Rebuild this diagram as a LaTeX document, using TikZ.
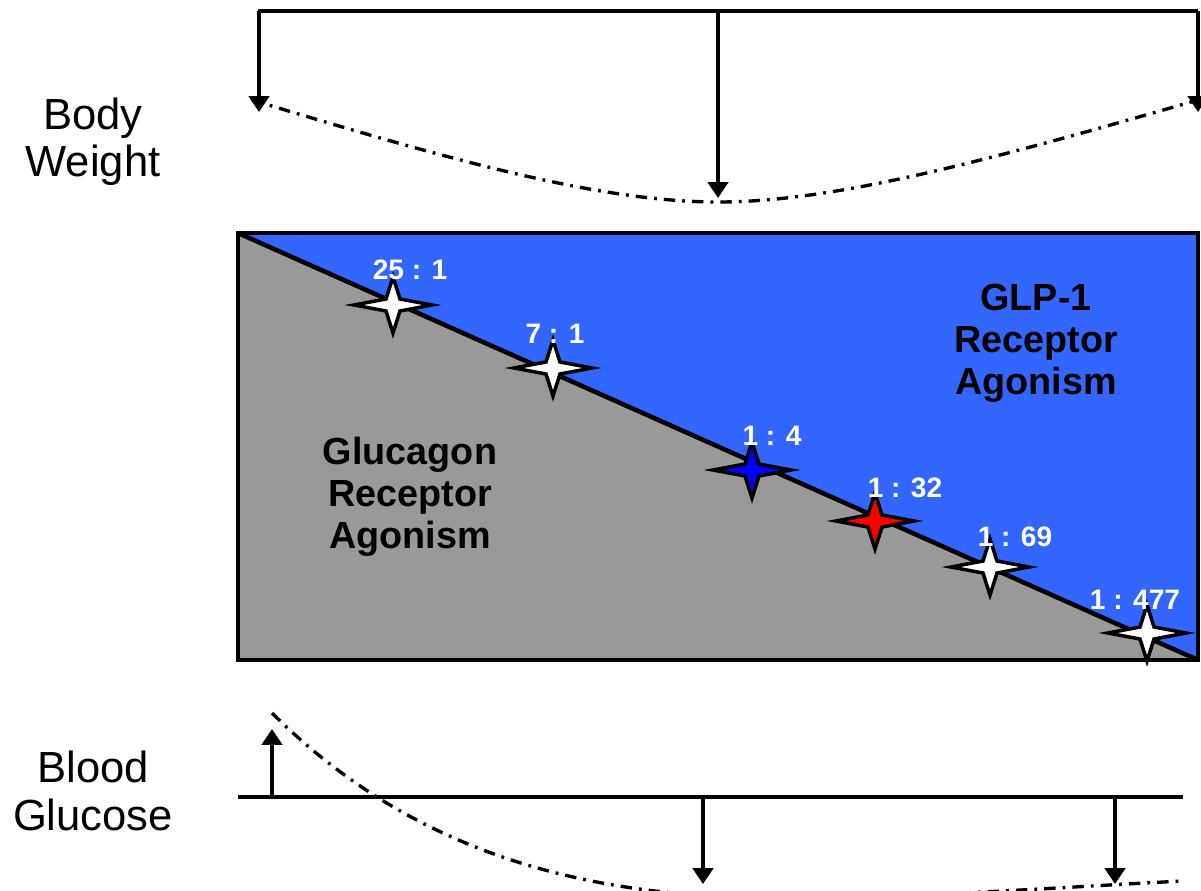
\documentclass[tikz,border=0pt]{standalone}
\usepackage{fontspec}
\setmainfont{Liberation Sans}
\usepackage{tikz}
\usetikzlibrary{arrows.meta,positioning,calc}
\definecolor{GlpBlue}{RGB}{51,102,255}
\definecolor{GcgGray}{RGB}{153,153,153}
\definecolor{StarBlue}{RGB}{0,0,255}
\definecolor{StarRed}{RGB}{255,0,0}

% four-point star round a named coordinate
\newcommand{\ratiostar}[2]{%
  \begin{scope}[shift={(#1)}]
    \draw[starline, fill=#2] (39,0) -- (7,-6) -- (0,-28) -- (-7,-6) -- (-39,0)
      -- (-7,6) -- (0,28) -- (7,6) -- cycle;
  \end{scope}}

\begin{document}
\begin{tikzpicture}[
  x=0.02cm, y=-0.02cm,
  bar/.style={line width=2.1pt, draw=black},
  arr/.style={-{Triangle[length=9pt, width=11.5pt]}, line width=2.1pt},
  trend/.style={line width=1.9pt, dash pattern=on 6.5pt off 4pt on 1.6pt off 4pt},
  side/.style={align=center, font=\fontsize{24.8}{27}\selectfont},
  region/.style={align=center, font=\fontsize{21.5}{24}\selectfont\bfseries},
  ratio/.style={text=white, inner sep=1pt, font=\fontsize{16}{18}\selectfont\bfseries},
  starline/.style={line width=2pt, line join=miter},
]
\useasboundingbox (0,0) rectangle (1201,890);

% body weight
\node[side] (bw) at (93,142) {Body\\Weight};
\coordinate (bwl) at (258,11);
\coordinate (bwm) at (718,11);
\coordinate (bwr) at (1198,11);
\coordinate (bwlt) at (259,112);
\coordinate (bwmt) at (718,198);
\coordinate (bwrt) at (1198,112);
\draw[bar] (bwl) -- (bwr);
\draw[arr] ($(bwl)+(1,0)$) -- (bwlt);
\draw[arr] (bwm) -- (bwmt);
\draw[arr] (bwr) -- (bwrt);
\coordinate (bwc1) at (252,100);
\coordinate (bwc2) at (718,202);
\coordinate (bwc3) at (1198,100);
\draw[trend] (bwc1) .. controls (450,160) and (600,202) .. (bwc2)
  .. controls (836,202) and (990,160) .. (bwc3);

% agonism box
\coordinate (tl) at (238,233);
\coordinate (br) at (1198,660);
\fill[GlpBlue] (tl) rectangle (br);
\fill[GcgGray] (tl) -- (tl |- br) -- (br) -- cycle;
\draw[line width=2.6pt] (tl) -- (br);
\draw[line width=2.6pt] (tl) rectangle (br);

\node[region] (glp) at (1036,343) {GLP-1\\Receptor\\Agonism};
\node[region] (gcg) at (410,497) {Glucagon\\Receptor\\Agonism};

\coordinate (s1) at (393,305);
\coordinate (s2) at (553,368);
\coordinate (s3) at (752,470);
\coordinate (s4) at (875,521);
\coordinate (s5) at (990,567);
\coordinate (s6) at (1147,633);
\ratiostar{s1}{white}
\ratiostar{s2}{white}
\ratiostar{s3}{StarBlue}
\ratiostar{s4}{StarRed}
\ratiostar{s5}{white}
\ratiostar{s6}{white}
\node[ratio] (r1) at (410,270) {25 : 1};
\node[ratio] (r2) at (555,334) {7 : 1};
\node[ratio] (r3) at (772,436) {1 : 4};
\node[ratio] (r4) at (905,488) {1 : 32};
\node[ratio] (r5) at (1015,537) {1 : 69};
\node[ratio] (r6) at (1135,600) {1 : 477};

% blood glucose
\node[side] (bg) at (93,791) {Blood\\Glucose};
\coordinate (bgl) at (238,797);
\coordinate (bgr) at (1183,797);
\coordinate (bgu) at (272,797);
\coordinate (bgut) at (272,729);
\coordinate (bgd1) at (703,797);
\coordinate (bgd1t) at (703,884);
\coordinate (bgd2) at (1115,797);
\coordinate (bgd2t) at (1115,884);
\draw[bar] (bgl) -- (bgr);
\draw[arr] (bgu) -- (bgut);
\draw[arr] (bgd1) -- (bgd1t);
\draw[arr] (bgd2) -- (bgd2t);
\coordinate (bgc1) at (272,713);
\coordinate (bgc2) at (800,898);
\coordinate (bgc3) at (1183,881);
\begin{scope}
  \clip (0,0) rectangle (1201,890);
  \draw[trend] (bgc1) .. controls (430,870) and (620,900) .. (bgc2)
    .. controls (950,896) and (1080,886) .. (bgc3);
\end{scope}
\end{tikzpicture}
\end{document}
